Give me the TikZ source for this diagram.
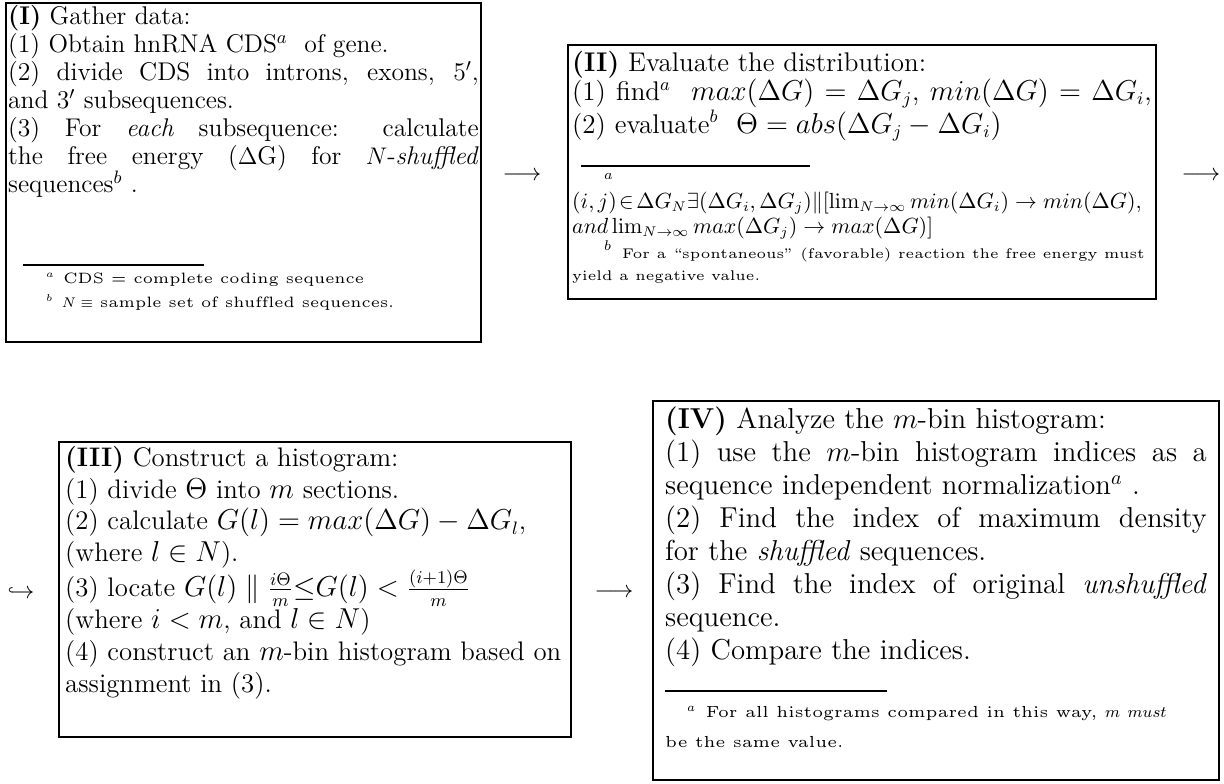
\documentclass[tikz,border=0pt]{standalone}
\usepackage{amsmath,amssymb}
\usepackage{tikz}
\usetikzlibrary{positioning}

% footnote faces: wide, small-size roman (one per box)
\font\fnrmI=cmr5 at 7.5pt
\font\fnrmII=cmr5 at 7pt
\font\fnrmIV=cmr5 at 8pt
% #1 width, #2 height, #3 text
\newcommand{\stagebody}[3]{\begin{minipage}[t][#2][t]{#1}#3\end{minipage}}
\newcommand{\fnrule}[2]{\hspace*{#1}\rule{#2}{1pt}}

\begin{document}
\begin{tikzpicture}[
  x=0.5pt, y=-0.5pt,
  stage/.style={draw, line width=1.2pt, anchor=north west, inner sep=2pt},
  flow/.style={inner sep=0pt, font=\fontsize{12.5}{14}\selectfont},
]
\useasboundingbox (0,0) rectangle (1224,783);

%% -- (I) gather data --------------------------------------------------
\node[stage, inner xsep=1pt, inner ysep=1pt] (gather) at (5,2) {\stagebody{235.3pt}{167.3pt}{%
  \fontsize{12.8}{14}\selectfont
  \textbf{(I)} Gather data:\\
  (1) Obtain hnRNA CDS$^a$\ \ of gene.\par
  (2) divide CDS into introns, exons, 5$'$,\linebreak
  and 3$'$ subsequences.\par
  (3) For \emph{each} subsequence: calculate\linebreak
  the free energy ($\Delta$G) for $N$-\emph{shuffled}\linebreak
  sequences$^b$ .\par\vspace{23pt}
  \fnrule{7.5pt}{90.5pt}\par\vspace{-3.5pt}
  {\fontsize{7.5}{12}\selectfont\fnrmI
  \hspace*{19pt}$^a$\hspace{4.2pt}CDS = complete coding sequence\\
  \hspace*{19pt}$^b$\hspace{4.2pt}$N\equiv$ sample set of shuffled sequences.\par}}};

%% -- (II) evaluate the distribution -----------------------------------
\node[stage, inner ysep=3pt] (evaluate) at (567,44) {\stagebody{289.8pt}{120.8pt}{%
  \fontsize{13.5}{14.5}\selectfont
  \textbf{(II)} Evaluate the distribution:\par
  (1) find$^a$\ \ $max(\Delta G)=\Delta G_j$, $min(\Delta G)=\Delta G_i$,\linebreak
  (2) evaluate$^b$\ \ $\Theta=abs(\Delta G_j-\Delta G_i)$\par\vspace{2.6pt}
  \fnrule{4.5pt}{114.5pt}\par\vspace{-1pt}
  {\fontsize{10.6}{10.8}\selectfont
  \hspace*{16pt}$^a$\\
  $(i,j)\!\in\!\Delta G_N\exists(\Delta G_i,\Delta G_j)\|[\lim_{N\to\infty}min(\Delta G_i)\to min(\Delta G),$\\
  $and\lim_{N\to\infty}max(\Delta G_j)\to max(\Delta G)]$\\
  \hspace*{16pt}$^b$\hspace{5pt}{\fnrmII For a ``spontaneous'' (favorable) reaction the free energy must}\\
  {\fnrmII yield a negative value.}\par}}};

%% -- (III) construct a histogram --------------------------------------
\node[stage, inner xsep=3pt] (construct) at (58,441) {\stagebody{249.8pt}{143.3pt}{%
  \fontsize{13.4}{15.85}\selectfont
  \textbf{(III)} Construct a histogram:\\
  (1) divide $\Theta$ into $m$ sections.\\
  (2) calculate $G(l)=max(\Delta G)-\Delta G_l$,\\
  (where $l\in N$).\\
  (3) locate $G(l)\parallel\frac{i\Theta}{m}{\le}G(l)<\frac{(i+1)\Theta}{m}$\\
  (where $i<m$, and $l\in N$)\\
  (4) construct an $m$-bin histogram based on\\
  assignment in (3).}};

%% -- (IV) analyze the histogram ---------------------------------------
\node[stage, inner xsep=6pt, inner ysep=3pt] (analyze) at (652,400) {\stagebody{270.8pt}{183.3pt}{%
  \fontsize{14.4}{16.5}\selectfont
  \textbf{(IV)} Analyze the $m$-bin histogram:\\
  (1) use the $m$-bin histogram indices as a\linebreak
  sequence independent normalization$^a$ .\\
  (2) Find the index of maximum density\linebreak
  for the \emph{shuffled} sequences.\\
  (3) Find the index of original \emph{unshuffled}\linebreak
  sequence.\\
  (4) Compare the indices.\par\vspace{-0.5pt}
  \fnrule{0pt}{111pt}\par\vspace{-2.4pt}
  {\fontsize{8}{15}\selectfont\fnrmIV
  \hspace*{11pt}$^a$\hspace{4.8pt}For all histograms compared in this way, $m$ $must$\\
  be the same value.\par}}};

%% -- flow arrows --------------------------------------------------------
\node[flow] (toII)   at (522,176)  {$\longrightarrow$};
\node[flow] (fromII) at (1201,176) {$\longrightarrow$};
\node[flow] (toIII)  at (21,593)   {$\hookrightarrow$};
\node[flow] (toIV)   at (614,593)  {$\longrightarrow$};

\end{tikzpicture}
\end{document}
